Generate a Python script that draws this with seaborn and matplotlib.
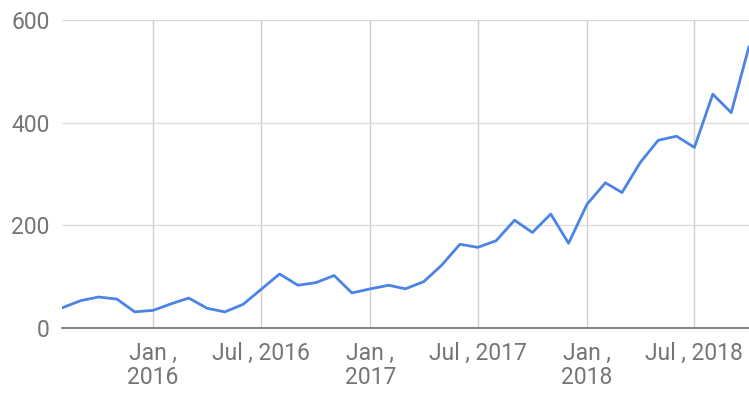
import pandas as pd
import seaborn as sns
import matplotlib.pyplot as plt

# monthly values, Aug 2015 .. Oct 2018
months = pd.date_range("2015-08-01", "2018-10-01", freq="MS")
values = [39, 53, 60, 56, 31, 34, 47, 58, 38, 31, 46, 75, 105, 83, 88, 102, 68,
          76, 83, 76, 90, 122, 163, 157, 170, 210, 186, 222, 165,
          241, 283, 264, 323, 366, 374, 352, 456, 420, 549]
tick_dates = pd.to_datetime(["2016-01-01", "2016-07-01", "2017-01-01",
                             "2017-07-01", "2018-01-01", "2018-07-01"])
tick_labels = ["Jan ,\n2016", "Jul , 2016", "Jan ,\n2017", "Jul , 2017",
               "Jan ,\n2018", "Jul , 2018"]

df = pd.DataFrame({"month": months, "value": values})

sns.set_style("white")
plt.rcParams["font.family"] = ["Roboto", "DejaVu Sans"]

fig = plt.figure(figsize=(7.49, 3.93), dpi=100)
ax = fig.add_axes([0.0832, 0.166, 0.9168, 0.782])

sns.lineplot(data=df, x="month", y="value", ax=ax, color="#4a84e4", linewidth=2)

ax.set_xlim(months[0], months[-1])
ax.set_ylim(0, 600)
ax.set_yticks([0, 200, 400, 600])
ax.set_xticks(tick_dates)
ax.set_xticklabels(tick_labels, linespacing=1.1)
ax.grid(True, axis="y", color="#dcdcdc", linewidth=1)
ax.grid(True, axis="x", color="#cfcfcf", linewidth=1)
ax.set_axisbelow(True)
for s in ["top", "right", "left"]:
    ax.spines[s].set_visible(False)
ax.spines["bottom"].set_color("#777777")
ax.spines["bottom"].set_linewidth(1.3)
ax.tick_params(axis="both", length=0, labelsize=16.5, labelcolor="#757575")
ax.tick_params(axis="y", pad=9)
ax.tick_params(axis="x", pad=10)
ax.set_xlabel("")
ax.set_ylabel("")

fig.savefig("out.png", dpi=100)
